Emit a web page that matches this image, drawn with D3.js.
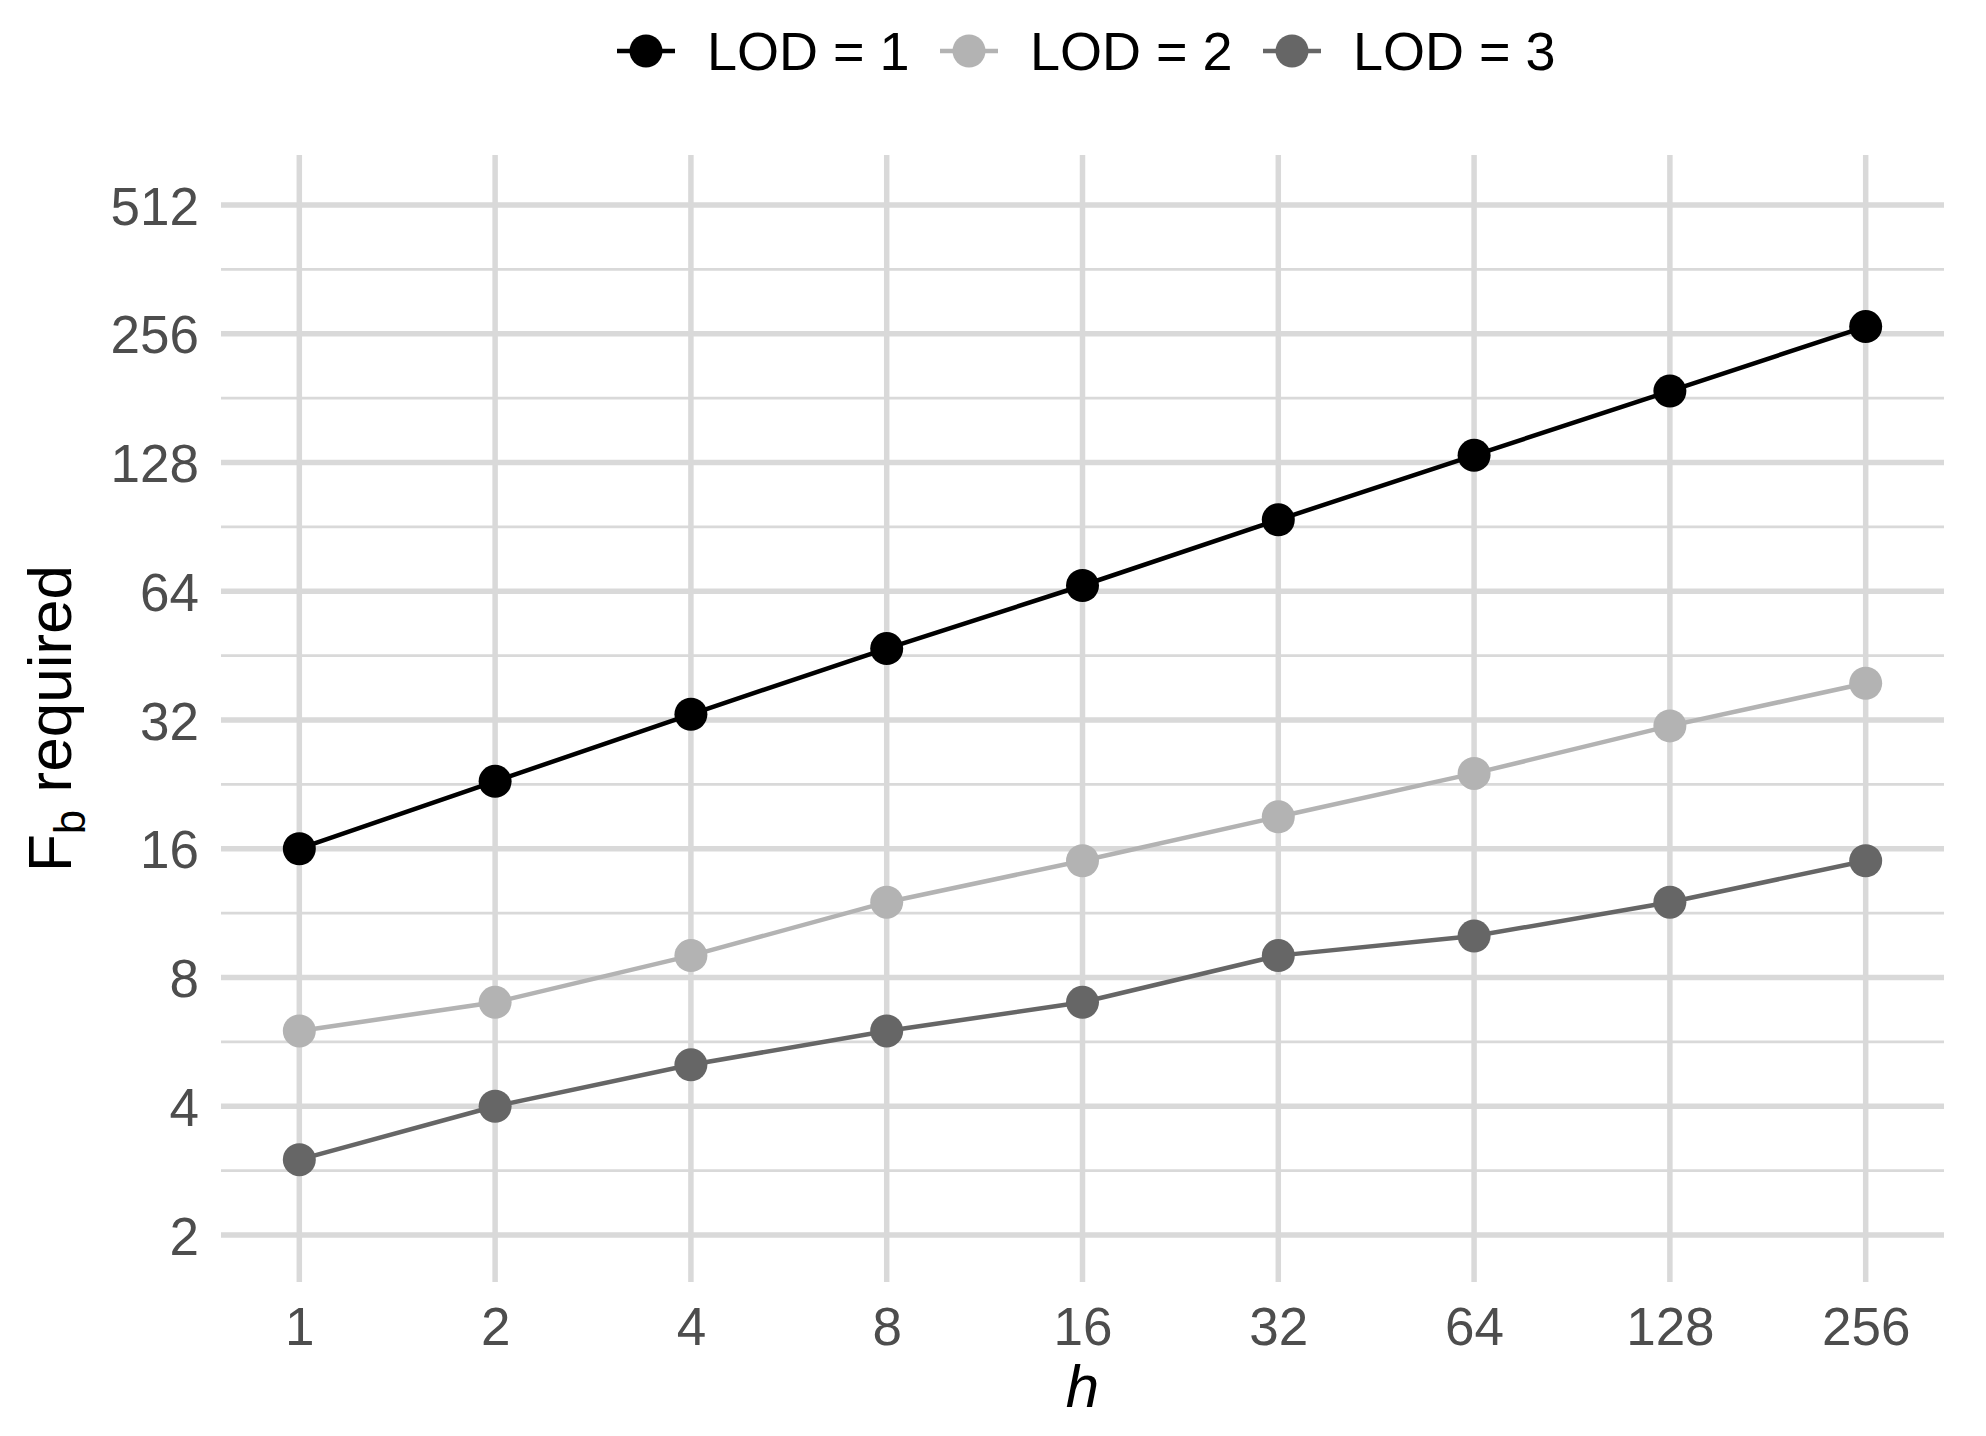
<!DOCTYPE html>
<meta charset="utf-8">
<style>
  body { margin: 0; background: #fff; }
  text { font-family: "Liberation Sans", Arial, sans-serif; }
</style>
<body>
<script src="https://cdn.jsdelivr.net/npm/d3@7"></script>
<script>

var width = 1986,
  height = 1436;

// data
var hValues = [1, 2, 4, 8, 16, 32, 64, 128, 256];
var lod1 = [16, 23, 33, 47, 66, 94, 133, 188, 266];
var lod2 = [6, 7, 9, 12, 15, 19, 24, 31, 39];
var lod3 = [3, 4, 5, 6, 7, 9, 10, 12, 15];
var seriesNames = ["LOD = 1", "LOD = 2", "LOD = 3"];
var seriesColors = ["#000000", "#b3b3b3", "#666666"];
var xTicks = [1, 2, 4, 8, 16, 32, 64, 128, 256];
var yTicks = [2, 4, 8, 16, 32, 64, 128, 256, 512];

var series = [lod1, lod2, lod3].map(function(vals, i) {
  return {
    name: seriesNames[i],
    color: seriesColors[i],
    points: vals.map(function(v, j) { return {h: hValues[j], f: v}; })
  };
});

var panel = {left: 221, right: 1944, top: 155, bottom: 1282};

var x = d3.scaleLog().base(2)
  .domain([Math.pow(2, -0.4), Math.pow(2, 8.4)])
  .range([panel.left, panel.right]);

var y = d3.scaleLog().base(2)
  .domain([Math.pow(2, 0.635), Math.pow(2, 9.388)])
  .range([panel.bottom, panel.top]);

var svg = d3.select("body").append("svg")
  .attr("width", width)
  .attr("height", height);

var grid = svg.append("g").attr("class", "grid");

// minor horizontal lines (half way between doublings)
var yMinor = yTicks.slice(0, -1).map(function(t) { return t * Math.SQRT2; });
grid.selectAll(".minor")
  .data(yMinor)
  .enter().append("line")
  .attr("x1", panel.left).attr("x2", panel.right)
  .attr("y1", function(d) { return y(d); })
  .attr("y2", function(d) { return y(d); })
  .attr("stroke", "#d9d9d9")
  .attr("stroke-width", 2.8);

grid.selectAll(".majorY")
  .data(yTicks)
  .enter().append("line")
  .attr("x1", panel.left).attr("x2", panel.right)
  .attr("y1", function(d) { return y(d); })
  .attr("y2", function(d) { return y(d); })
  .attr("stroke", "#d9d9d9")
  .attr("stroke-width", 5.5);

grid.selectAll(".majorX")
  .data(xTicks)
  .enter().append("line")
  .attr("y1", panel.top).attr("y2", panel.bottom)
  .attr("x1", function(d) { return x(d); })
  .attr("x2", function(d) { return x(d); })
  .attr("stroke", "#d9d9d9")
  .attr("stroke-width", 5.5);

// axes, ggplot-style: labels only, no domain line or ticks
var xAxis = svg.append("g")
  .attr("transform", "translate(0," + panel.bottom + ")")
  .call(d3.axisBottom(x).tickValues(xTicks).tickFormat(d3.format("d")).tickSize(0).tickPadding(0));
xAxis.select(".domain").remove();
xAxis.selectAll("text")
  .attr("y", 63)
  .attr("dy", 0)
  .attr("fill", "#4d4d4d")
  .style("font-size", "53px")
  .style("font-family", "Liberation Sans, Arial, sans-serif");

var yAxis = svg.append("g")
  .attr("transform", "translate(" + panel.left + ",0)")
  .call(d3.axisLeft(y).tickValues(yTicks).tickFormat(d3.format("d")).tickSize(0).tickPadding(0));
yAxis.select(".domain").remove();
yAxis.selectAll("text")
  .attr("x", -22)
  .attr("dy", "0.36em")
  .attr("fill", "#4d4d4d")
  .style("font-size", "53px")
  .style("font-family", "Liberation Sans, Arial, sans-serif");

// axis titles
svg.append("text")
  .attr("x", (panel.left + panel.right) / 2)
  .attr("y", 1407)
  .attr("text-anchor", "middle")
  .style("font-size", "60px")
  .style("font-style", "italic")
  .text("h");

var yTitle = svg.append("text")
  .attr("transform", "translate(71," + ((panel.top + panel.bottom) / 2) + ") rotate(-90)")
  .attr("text-anchor", "middle")
  .style("font-size", "62px");
yTitle.append("tspan").text("F");
yTitle.append("tspan").attr("dy", 14).style("font-size", "44px").text("b");
yTitle.append("tspan").attr("dy", -14).text(" required");

// lines then points
var line = d3.line()
  .x(function(d) { return x(d.h); })
  .y(function(d) { return y(d.f); });

svg.append("g").selectAll("path")
  .data(series)
  .enter().append("path")
  .attr("d", function(d) { return line(d.points); })
  .attr("fill", "none")
  .attr("stroke", function(d) { return d.color; })
  .attr("stroke-width", 4.5);

svg.append("g").selectAll("g")
  .data(series)
  .enter().append("g")
  .attr("fill", function(d) { return d.color; })
  .selectAll("circle")
  .data(function(d) { return d.points; })
  .enter().append("circle")
  .attr("cx", function(d) { return x(d.h); })
  .attr("cy", function(d) { return y(d.f); })
  .attr("r", 16.5);

// legend on top
var legend = svg.append("g")
  .attr("transform", "translate(617,51)");

var item = legend.selectAll("g")
  .data(series)
  .enter().append("g")
  .attr("transform", function(d, i) { return "translate(" + (i * 323) + ",0)"; });

item.append("line")
  .attr("x1", 0).attr("x2", 58)
  .attr("stroke", function(d) { return d.color; })
  .attr("stroke-width", 4.5);

item.append("circle")
  .attr("cx", 29)
  .attr("r", 16.5);

item.select("circle").attr("fill", function(d) { return d.color; });

item.append("text")
  .attr("x", 90)
  .attr("y", 19)
  .style("font-size", "54px")
  .text(function(d) { return d.name; });

</script>
</body>
